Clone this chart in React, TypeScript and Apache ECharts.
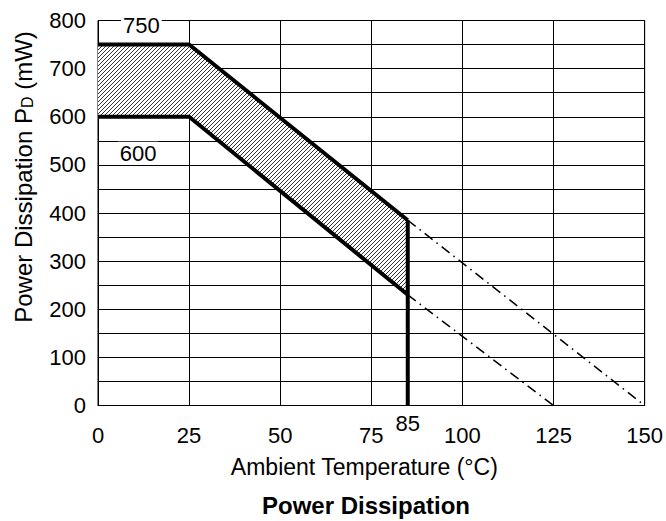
import React, { useEffect, useRef } from 'react';
import * as echarts from 'echarts';

// Data
const xTicks = [0, 25, 50, 75, 100, 125, 150];
const yTicks = [0, 100, 200, 300, 400, 500, 600, 700, 800];
const bendTemps = [0, 25, 85];
const upperPd = [750, 750, 385];
const lowerPd = [600, 600, 230];
const cutoffTemps = [85, 85];
const cutoffPd = [385, 0];
const upperExtTemps = [85, 150];
const upperExtPd = [385, 0];
const lowerExtTemps = [85, 125];
const lowerExtPd = [230, 0];
const bandLabels = ['750', '600'];
const markTemp = 85;

const FONT = '"Liberation Sans", Arial, Helvetica, sans-serif';

function makeHatch(): HTMLCanvasElement {
  const c = document.createElement('canvas');
  c.width = 4;
  c.height = 4;
  const ctx = c.getContext('2d')!;
  ctx.fillStyle = '#ffffff';
  ctx.fillRect(0, 0, 4, 4);
  ctx.strokeStyle = '#333333';
  ctx.lineWidth = 1;
  ctx.beginPath();
  ctx.moveTo(0, 4); ctx.lineTo(4, 0);
  ctx.moveTo(-1, 1); ctx.lineTo(1, -1);
  ctx.moveTo(3, 5); ctx.lineTo(5, 3);
  ctx.stroke();
  return c;
}

export default function App() {
  const ref = useRef<HTMLDivElement>(null);
  useEffect(() => {
    if (!ref.current) return;
    const chart = echarts.init(ref.current, undefined, { renderer: 'svg' });
    const pair = (xs: number[], ys: number[]) => xs.map((x, i) => [x, ys[i]]);
    const bandPolygon = [
      ...pair(bendTemps, upperPd),
      ...pair(bendTemps, lowerPd).reverse(),
    ];
    const hatch = makeHatch();
    const thick = { color: '#000', width: 4 };
    const dashDot = { color: '#000', width: 1.5, type: [10, 5, 1.5, 5] as any };
    chart.setOption({
      animation: false,
      backgroundColor: '#fff',
      textStyle: { fontFamily: FONT, color: '#000' },
      title: {
        text: 'Power Dissipation',
        left: 366,
        top: 493,
        padding: 0,
        textAlign: 'center',
        textStyle: { fontFamily: FONT, fontSize: 24, fontWeight: 'bold', color: '#000' },
      },
      grid: {
        left: 98, right: 19, top: 20.5, bottom: 115.5,
        show: true, borderColor: '#000', borderWidth: 1,
      },
      xAxis: {
        type: 'value', min: xTicks[0], max: xTicks[xTicks.length - 1], interval: 25,
        name: 'Ambient Temperature (°C)', nameLocation: 'middle', nameGap: 50,
        nameTextStyle: { fontFamily: FONT, fontSize: 23, color: '#000', padding: [0, 14, 0, 0] },
        axisLine: { show: true, lineStyle: { color: '#000', width: 1 } },
        axisTick: { show: false },
        axisLabel: { fontFamily: FONT, fontSize: 22, color: '#000', margin: 19 },
        splitLine: { show: true, lineStyle: { color: '#000', width: 1 } },
      },
      yAxis: {
        type: 'value', min: yTicks[0], max: yTicks[yTicks.length - 1], interval: 50,
        name: 'Power Dissipation P{sub|D} (mW)', nameLocation: 'middle', nameGap: 63,
        nameTextStyle: {
          fontFamily: FONT, fontSize: 24, color: '#000', padding: [0, 0, 0, 72],
          rich: { sub: { fontFamily: FONT, fontSize: 16, color: '#000', verticalAlign: 'bottom', padding: [8, 0, 0, 0] } },
        },
        axisLine: { show: true, lineStyle: { color: '#000', width: 1 } },
        axisTick: { show: false },
        axisLabel: {
          fontFamily: FONT, fontSize: 22, color: '#000', margin: 12,
          formatter: (v: number) => (yTicks.includes(v) ? String(v) : ''),
        },
        splitLine: { show: true, lineStyle: { color: '#000', width: 1 } },
      },
      series: [
        {
          type: 'custom', silent: true, z: 3, clip: true,
          data: bandPolygon,
          renderItem: (params: any, api: any) => {
            if (params.dataIndex !== 0) return null;
            const points = bandPolygon.map((p) => api.coord(p));
            return {
              type: 'polygon',
              shape: { points },
              style: { fill: { image: hatch, repeat: 'repeat' }, stroke: 'none' },
            };
          },
        },
        {
          type: 'line', data: pair(bendTemps, upperPd), symbol: 'none', lineStyle: thick, z: 5,
          markPoint: {
            symbol: 'rect', symbolSize: 0, silent: true,
            label: {
              show: true, position: 'inside', fontFamily: FONT, fontSize: 22, color: '#000',
              backgroundColor: '#fff', padding: [1, 2, 0, 2],
            },
            data: [
              { coord: [11.9, 789], value: bandLabels[0], label: { formatter: bandLabels[0] } },
              { coord: [11, 524], value: bandLabels[1], label: { formatter: bandLabels[1] } },
              {
                coord: [markTemp, 0], value: markTemp,
                label: { formatter: String(markTemp), backgroundColor: 'transparent', offset: [0, 18] },
              },
            ],
          },
        },
        { type: 'line', data: pair(bendTemps, lowerPd), symbol: 'none', lineStyle: thick, z: 5 },
        { type: 'line', data: pair(cutoffTemps, cutoffPd), symbol: 'none', lineStyle: thick, z: 5 },
        { type: 'line', data: pair(upperExtTemps, upperExtPd), symbol: 'none', lineStyle: dashDot, z: 4 },
        { type: 'line', data: pair(lowerExtTemps, lowerExtPd), symbol: 'none', lineStyle: dashDot, z: 4 },
      ],
    });
    return () => chart.dispose();
  }, []);
  return <div ref={ref} style={{ position: 'fixed', left: 0, top: 0, width: 666, height: 521 }} />;
}
